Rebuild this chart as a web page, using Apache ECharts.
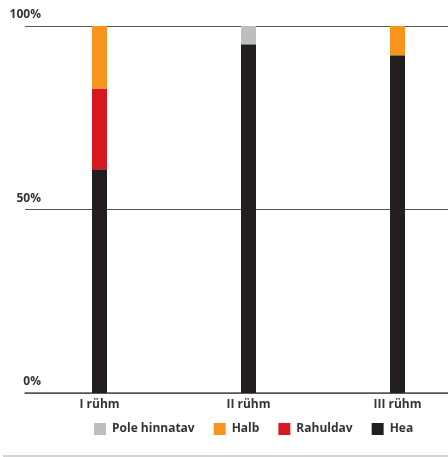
<!DOCTYPE html>
<html><head><meta charset="utf-8">
<script src="https://cdn.jsdelivr.net/npm/echarts@6/dist/echarts.min.js"></script>
<style>html,body{margin:0;padding:0;background:#fff}#c{width:448px;height:457px}</style>
</head><body><div id="c"></div>
<script>
var categories = ['I rühm', 'II rühm', 'III rühm'];
var hea = [61, 95, 92];
var rahuldav = [22, 0, 0];
var halb = [17, 0, 8];
var poleHinnatav = [0, 5, 0];
var yTicks = ['0%', '50%', '100%'];
var legendOrder = ['Pole hinnatav', 'Halb', 'Rahuldav', 'Hea'];

var FONT = '"Open Sans", "Noto Sans", sans-serif';
var chart = echarts.init(document.getElementById('c'), null, {renderer: 'canvas'});
function s(name, data, color) {
  return {name: name, type: 'bar', stack: 'a', data: data, barWidth: 15,
    itemStyle: {color: color}, emphasis: {disabled: true}};
}
chart.setOption({
  animation: false,
  textStyle: {fontFamily: FONT},
  grid: {left: 25, top: 26, right: -24, bottom: 64, containLabel: false, outerBoundsMode: 'none'},
  legend: {
    data: legendOrder, top: 418, left: 89, itemWidth: 12, itemHeight: 12, itemGap: 19,
    icon: 'rect',
    textStyle: {fontFamily: FONT, fontWeight: 'bold', fontSize: 12, color: '#333', padding: [0, 0, 0, 1]}
  },
  xAxis: {
    type: 'category', data: categories,
    axisLine: {lineStyle: {color: '#555', width: 1.5}},
    axisTick: {show: false},
    axisLabel: {fontFamily: FONT, fontWeight: 'bold', fontSize: 12, color: '#333', margin: 6}
  },
  yAxis: {
    type: 'value', min: 0, max: 100, interval: 50,
    axisLine: {show: false}, axisTick: {show: false},
    splitLine: {lineStyle: {color: '#555', width: 1.2}},
    axisLabel: {
      formatter: function (v) { return yTicks[v / 50]; },
      fontFamily: FONT, fontWeight: 'bold', fontSize: 12, color: '#333',
      margin: -16, verticalAlign: 'bottom', padding: [0, 0, 5, 0]
    }
  },
  graphic: [{type: 'line', shape: {x1: 3, y1: 456, x2: 448, y2: 456},
    style: {stroke: '#aaa', lineWidth: 1}}],
  series: [
    s('Hea', hea, '#231F20'),
    s('Rahuldav', rahuldav, '#D7191F'),
    s('Halb', halb, '#F7941D'),
    s('Pole hinnatav', poleHinnatav, '#BCBEC0')
  ]
});
</script></body></html>
